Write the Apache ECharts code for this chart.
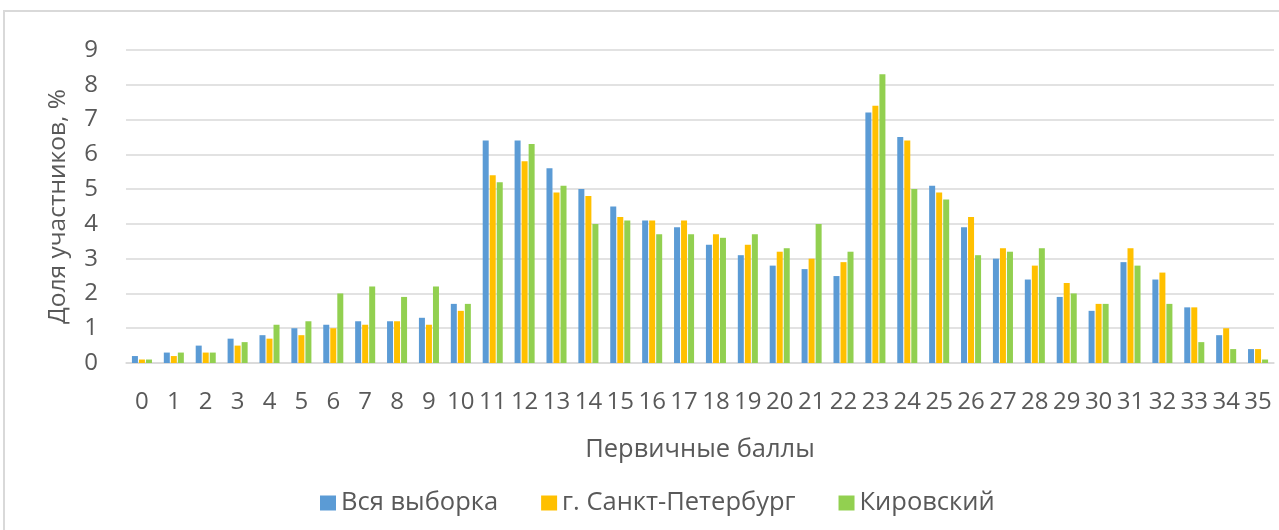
<!DOCTYPE html>
<html>
<head>
<meta charset="utf-8">
<script src="https://cdn.jsdelivr.net/npm/echarts@6/dist/echarts.min.js"></script>
<style>
html,body{margin:0;padding:0;background:#fff;}
#chart{width:1279px;height:530px;}
</style>
</head>
<body>
<div id="chart"></div>
<script>
var categories = ['0','1','2','3','4','5','6','7','8','9','10','11','12','13','14','15','16','17','18','19','20','21','22','23','24','25','26','27','28','29','30','31','32','33','34','35'];
var allSample = [0.2,0.3,0.5,0.7,0.8,1.0,1.1,1.2,1.2,1.3,1.7,6.4,6.4,5.6,5.0,4.5,4.1,3.9,3.4,3.1,2.8,2.7,2.5,7.2,6.5,5.1,3.9,3.0,2.4,1.9,1.5,2.9,2.4,1.6,0.8,0.4];
var spb = [0.1,0.2,0.3,0.5,0.7,0.8,1.0,1.1,1.2,1.1,1.5,5.4,5.8,4.9,4.8,4.2,4.1,4.1,3.7,3.4,3.2,3.0,2.9,7.4,6.4,4.9,4.2,3.3,2.8,2.3,1.7,3.3,2.6,1.6,1.0,0.4];
var kirov = [0.1,0.3,0.3,0.6,1.1,1.2,2.0,2.2,1.9,2.2,1.7,5.2,6.3,5.1,4.0,4.1,3.7,3.7,3.6,3.7,3.3,4.0,3.2,8.3,5.0,4.7,3.1,3.2,3.3,2.0,1.7,2.8,1.7,0.6,0.4,0.1];
var seriesNames = ['Вся выборка','г. Санкт-Петербург','Кировский'];
var yTicks = [0,1,2,3,4,5,6,7,8,9];

var FONT = '"Open Sans", "Noto Sans", sans-serif';
var TXT = '#595959';
var chart = echarts.init(document.getElementById('chart'), null, {renderer:'canvas'});
var colors = ['#5b9bd5','#ffc000','#92d050'];
var datas = [allSample, spb, kirov];
chart.setOption({
  animation:false,
  backgroundColor:'#ffffff',
  textStyle:{fontFamily:FONT},
  grid:{left:126, right:5, top:50, bottom:167, containLabel:false},
  legend:{
    left:315, top:485, itemWidth:16, itemHeight:15, itemGap:43,
    icon:'rect',
    textStyle:{fontFamily:FONT, fontSize:25.5, color:TXT},
    data:seriesNames
  },
  xAxis:{
    type:'category', data:categories,
    axisLine:{show:true, lineStyle:{color:'#d9d9d9', width:1.5}},
    axisTick:{show:false},
    axisLabel:{interval:0, margin:27, fontFamily:FONT, fontSize:24, color:TXT},
    name:'Первичные баллы', nameLocation:'middle', nameGap:74,
    nameTextStyle:{fontFamily:FONT, fontSize:25.5, color:TXT}
  },
  yAxis:{
    type:'value', min:yTicks[0], max:yTicks[yTicks.length-1], interval:1,
    axisLine:{show:false}, axisTick:{show:false},
    axisLabel:{margin:28, fontFamily:FONT, fontSize:24, color:TXT},
    splitLine:{lineStyle:{color:'#d9d9d9', width:1.5}},
    name:'Доля участников, %', nameLocation:'middle', nameGap:55, nameRotate:90,
    nameTextStyle:{fontFamily:FONT, fontSize:24.5, color:TXT}
  },
  series: seriesNames.map(function(n,i){
    return {
      name:n, type:'bar', data:datas[i],
      barWidth:6, barGap:'17%',
      itemStyle:{color:colors[i]}
    };
  }),
  graphic:[
    {type:'line', shape:{x1:3, y1:11, x2:1279, y2:11}, style:{stroke:'#d9d9d9', lineWidth:2}, silent:true},
    {type:'line', shape:{x1:4, y1:10, x2:4, y2:530}, style:{stroke:'#d9d9d9', lineWidth:2}, silent:true}
  ]
});
</script>
</body>
</html>
